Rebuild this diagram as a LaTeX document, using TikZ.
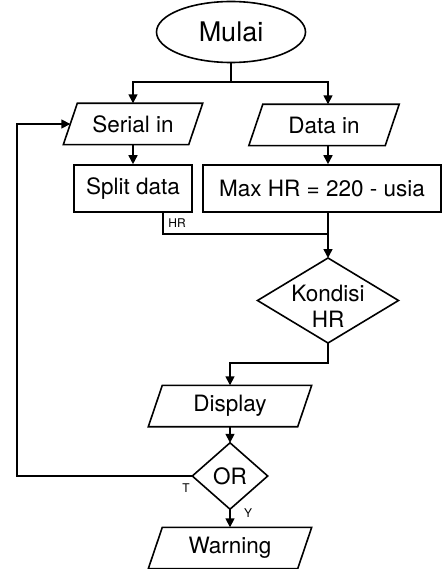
\documentclass[tikz,border=0pt]{standalone}
\usepackage{fontspec}
\setmainfont{TeX Gyre Heros}
\usetikzlibrary{arrows.meta,calc,shapes.geometric}
\newcommand\iobox[2][7]{\draw[ln] ($(#2.north west)+(#1,0)$) -- ($(#2.north east)+(#1,0)$) -- ($(#2.south east)+(-#1,0)$) -- ($(#2.south west)+(-#1,0)$) -- cycle;}
\begin{document}
\begin{tikzpicture}[x=1pt,y=-1pt,
  ln/.style={line width=1.6pt},
  arr/.style={ln,-{Triangle[length=9pt,width=9pt]}},
  txt/.style={font=\fontsize{22.5}{26}\selectfont, inner sep=0pt, align=center},
  box/.style={txt,draw,ln,minimum height=47pt},
  io/.style={txt,minimum height=41pt},
  small/.style={font=\fontsize{12}{14}\selectfont, inner sep=0pt}]
\useasboundingbox (0,0) rectangle (443,569);
% nodes
\node[ellipse,draw,ln,minimum width=149pt,minimum height=61pt,inner sep=0pt,font=\fontsize{27}{30}\selectfont] (start) at (231,32) {Mulai};
\node[io,minimum width=125pt] (si) at (133,124) {Serial in};
\node[io,minimum width=136pt] (di) at (324,125) {Data in};
\node[box,minimum width=118pt] (sd) at (133,188.5) {Split data};
\node[box,minimum width=238pt] (mx) at (322,188.5) {Max HR = 220 - usia};
\node[txt] (kh) at (328,306) {Kondisi\\HR};
\node[txt,minimum width=149pt,minimum height=41pt] (dp) at (230,406) {Display};
\node[txt,minimum width=75pt,minimum height=66pt] (or) at (230,476) {OR};
\node[io,minimum width=149pt] (wn) at (230,548) {Warning};
% diamond vertices of Kondisi HR
\coordinate (khn) at (328,258);
\coordinate (khe) at (398.5,300.5);
\coordinate (khs) at (328,343);
\coordinate (khw) at (257.5,300.5);
% shapes
\iobox{si}
\iobox{di}
\iobox{dp}
\iobox{wn}
\draw[ln] (khn) -- (khe) -- (khs) -- (khw) -- cycle;
\draw[ln] (or.north) -- (or.east) -- (or.south) -- (or.west) -- cycle;
% labels
\node[small] (hrl) at (177,223) {HR};
\node[small] (tl) at (186,488) {T};
\node[small] (yl) at (248,513) {Y};
% helper coordinates
\coordinate (fork) at (231,82);
\coordinate (col) at (328,0);
\coordinate (hrx) at (163,0);
\coordinate (hrj) at (328,234);
\coordinate (kd) at (0,363);
\coordinate (lx) at (17,0);
% connectors
\draw[ln] (start.south) -- (fork);
\draw[arr] (fork) -| (si.north);
\draw[arr] (fork) -| (di.north -| col);
\draw[arr] (si.south) -- (sd.north);
\draw[arr] (di.south -| col) -- (mx.north -| col);
\draw[ln] (sd.south -| hrx) |- (hrj);
\draw[arr] (mx.south -| col) -- (khn);
\draw[arr] (khs) -- (khs |- kd) -| (dp.north);
\draw[arr] (dp.south) -- (or.north);
\draw[arr] (or.south) -- (wn.north);
\draw[arr] (or.west) -| (lx |- si.west) -- (si.west);
\end{tikzpicture}
\end{document}
